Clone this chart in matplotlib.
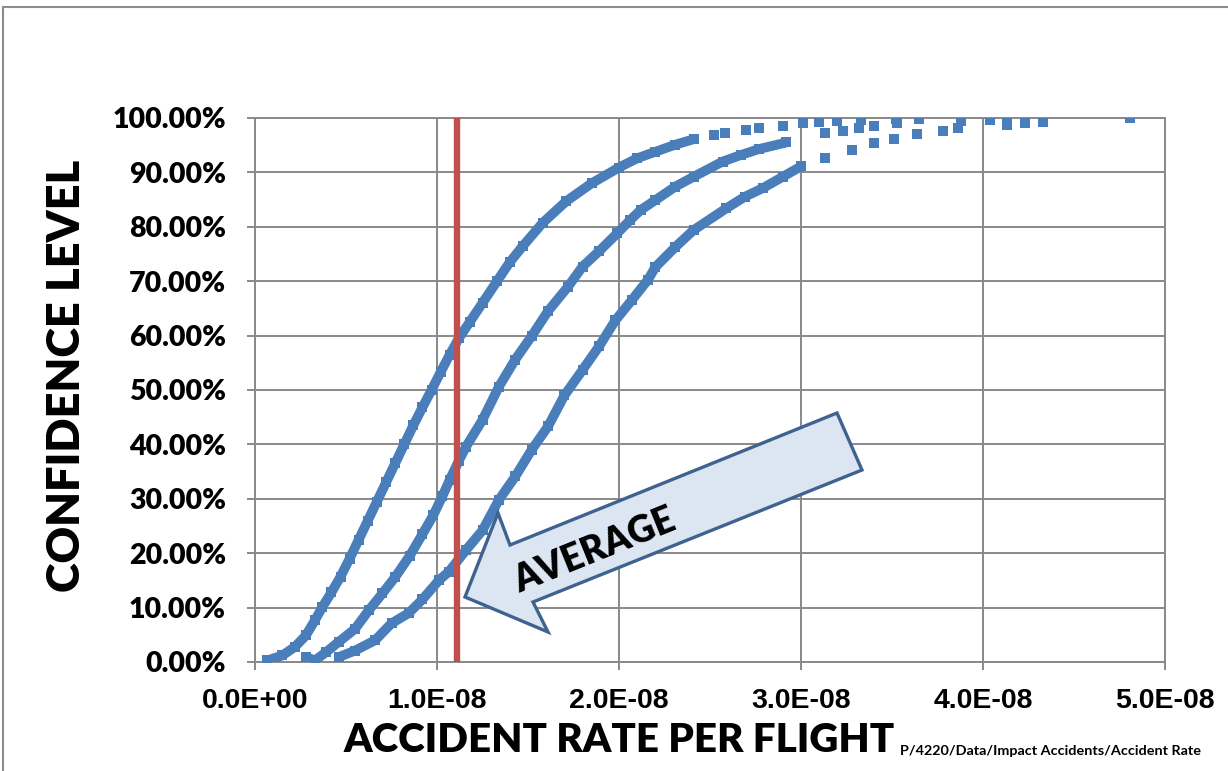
import matplotlib
matplotlib.use("Agg")
import matplotlib.pyplot as plt
from matplotlib.patches import Polygon
from matplotlib.lines import Line2D
import numpy as np

# ---------------- data (x in units of 1E-08, confidence in %) ----------------
curve1_x = [0.068, 0.15, 0.22, 0.28, 0.33, 0.37, 0.42, 0.47, 0.52, 0.57, 0.62, 0.67, 0.72,
            0.77, 0.82, 0.87, 0.92, 0.97, 1.02, 1.07, 1.12, 1.18, 1.25, 1.33, 1.40, 1.47,
            1.58, 1.71, 1.85, 2.00, 2.10, 2.20, 2.31, 2.41, 2.52, 2.58, 2.70, 2.77, 2.90,
            3.01, 3.10, 3.20, 3.33, 3.52, 3.65]
curve1_y = [0.3, 1.2, 2.8, 4.9, 7.7, 10.1, 12.8, 15.7, 19.0, 22.5, 26.0, 29.5, 33.0,
            36.5, 40.0, 43.5, 46.8, 50.0, 53.3, 56.5, 59.5, 62.5, 66.0, 70.0, 73.5, 76.4,
            80.7, 84.7, 88.0, 90.9, 92.6, 93.8, 95.1, 96.1, 96.9, 97.2, 97.8, 98.2, 98.6,
            99.0, 99.2, 99.4, 99.7, 99.8, 99.9]

curve2_x = [0.28, 0.33, 0.39, 0.46, 0.55, 0.625, 0.70, 0.77, 0.85, 0.92, 0.98, 1.03, 1.07,
            1.12, 1.16, 1.25, 1.34, 1.43, 1.52, 1.61, 1.72, 1.80, 1.89, 1.99, 2.06, 2.12,
            2.20, 2.31, 2.41, 2.57, 2.67, 2.77, 2.92, 3.13, 3.23, 3.32, 3.40, 3.53, 3.88, 4.13]
curve2_y = [0.9, 0.3, 1.8, 3.7, 6.1, 9.5, 12.6, 15.6, 19.5, 23.5, 27.0, 30.5, 33.5,
            37.0, 39.6, 44.5, 50.6, 55.6, 59.9, 64.5, 69.0, 72.7, 75.5, 78.8, 81.2, 83.1,
            84.9, 87.4, 89.2, 92.0, 93.2, 94.3, 95.5, 97.2, 97.7, 98.2, 98.5, 99.1, 99.5, 100.0]

curve3_x = [0.46, 0.55, 0.66, 0.75, 0.845, 0.92, 1.01, 1.065, 1.16, 1.25, 1.34, 1.43, 1.52,
            1.61, 1.70, 1.80, 1.89, 1.98, 2.07, 2.16, 2.20, 2.31, 2.41, 2.59, 2.69, 2.79,
            2.90, 3.00, 3.13, 3.28, 3.40, 3.51, 3.64, 3.78, 3.86, 4.04, 4.13, 4.23, 4.33, 4.81]
curve3_y = [0.9, 2.1, 4.0, 7.1, 9.0, 11.5, 15.0, 16.6, 20.6, 24.2, 29.8, 34.1, 39.0,
            43.3, 49.0, 53.7, 58.0, 62.8, 66.5, 70.3, 72.6, 76.3, 79.4, 83.4, 85.5, 87.1,
            89.2, 91.1, 92.6, 94.2, 95.4, 96.1, 97.0, 97.7, 98.2, 99.7, 98.8, 99.1, 99.3, 100.0]

average_rate = 1.11e-8
x_ticks = [0.0, 1e-8, 2e-8, 3e-8, 4e-8, 5e-8]
x_tick_labels = ["0.0E+00", "1.0E-08", "2.0E-08", "3.0E-08", "4.0E-08", "5.0E-08"]
y_ticks = [i / 10 for i in range(11)]
y_tick_labels = [f"{v * 100:.2f}%" for v in y_ticks]

# ---------------- style ----------------
W, H = 1228, 771
BLUE = "#4A7EBB"
RED = "#C0504D"
GRID = "#898989"
CAL = ["Lato", "DejaVu Sans"]
ARIAL = ["Liberation Sans", "DejaVu Sans"]
# x (in E-08) where each curve stops looking continuous
dense_until = [2.45, 2.95, 3.0]

fig = plt.figure(figsize=(W / 100, H / 100), dpi=100)
fig.patch.set_facecolor("white")
ax = fig.add_axes([255 / W, 1 - 662 / H, 910 / W, 544 / H])
ax.set_xlim(0, 5e-8)
ax.set_ylim(0, 1)

for cx, cy, lim in [(curve1_x, curve1_y, dense_until[0]),
                    (curve2_x, curve2_y, dense_until[1]),
                    (curve3_x, curve3_y, dense_until[2])]:
    xs = np.array(cx) * 1e-8
    ys = np.array(cy) / 100
    m = np.array(cx) <= lim
    ax.plot(xs[m], ys[m], color=BLUE, lw=7.0, solid_capstyle="butt",
            solid_joinstyle="round", zorder=3)
    ax.plot(xs, ys, ls="none", marker="s", ms=6.8, mew=0, color=BLUE, zorder=3)

ax.plot([average_rate, average_rate], [0, 1], color=RED, lw=4.6,
        solid_capstyle="round", zorder=4)

ax.set_xticks(x_ticks)
ax.set_xticklabels(x_tick_labels, fontfamily=ARIAL, fontweight="bold", fontsize=20.5)
ax.set_yticks(y_ticks)
ax.set_yticklabels(y_tick_labels, fontfamily=CAL, fontweight="heavy", fontsize=20.5)
ax.grid(True, color=GRID, lw=1.4)
ax.set_axisbelow(True)
for s in ax.spines.values():
    s.set_color(GRID)
    s.set_linewidth(1.4)
ax.tick_params(axis="both", direction="out", length=6, width=1.4, color=GRID)
ax.tick_params(axis="y", pad=15)
ax.tick_params(axis="x", pad=13)

# axis titles
fig.text(67 / W, 1 - 376 / H, "CONFIDENCE LEVEL", rotation=90, ha="center", va="center",
         fontfamily=CAL, fontweight="heavy", fontsize=32.5)
fig.text(619 / W, 1 - 740 / H, "ACCIDENT RATE PER FLIGHT", ha="center", va="center",
         fontfamily=CAL, fontweight="heavy", fontsize=29)
fig.text(900 / W, 1 - 751 / H, "P/4220/Data/Impact Accidents/Accident Rate", ha="left",
         va="center", fontfamily=CAL, fontweight="bold", fontsize=10.4)

# block arrow annotation
arrow_px = [(465, 597), (498, 513), (510, 545), (837, 413), (862, 470), (533, 602), (548, 632)]
arrow_fig = [(x / W, 1 - y / H) for x, y in arrow_px]
fig.patches.append(Polygon(arrow_fig, closed=True, transform=fig.transFigure,
                           facecolor="#DCE5F2", edgecolor="#3F6391", lw=2.4,
                           joinstyle="miter", zorder=5))
fig.text(595 / W, 1 - 551 / H, "AVERAGE", rotation=22, ha="center", va="center",
         rotation_mode="anchor", fontfamily=CAL, fontweight="heavy", fontsize=26.5,
         color="black", zorder=6)

# outer frame (top and left edges visible)
fig.lines.append(Line2D([3 / W, 3 / W], [0, 1 - 7 / H], transform=fig.transFigure,
                        color="#8C8C8C", lw=1.5))
fig.lines.append(Line2D([3 / W, 1], [1 - 7 / H, 1 - 7 / H], transform=fig.transFigure,
                        color="#8C8C8C", lw=1.5))

fig.savefig("out.png", dpi=100)
